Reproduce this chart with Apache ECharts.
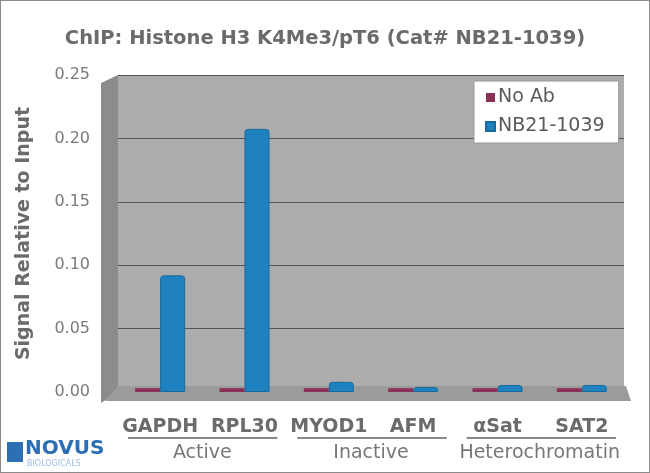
<!DOCTYPE html>
<html>
<head>
<meta charset="utf-8">
<script src="https://cdn.jsdelivr.net/npm/echarts@6/dist/echarts.min.js"></script>
<style>
  html, body { margin: 0; padding: 0; background: #fff; }
  #main { width: 650px; height: 473px; box-sizing: border-box; border: 1px solid #8a8a8a; }
</style>
</head>
<body>
<div id="main"></div>
<script>
// chart data
const genes = ['GAPDH', 'RPL30', 'MYOD1', 'AFM', 'αSat', 'SAT2']
const groups = ['Active', 'Inactive', 'Heterochromatin']
const noAb = [0.003, 0.003, 0.003, 0.003, 0.003, 0.003]
const nb21 = [0.092, 0.2075, 0.008, 0.004, 0.0055, 0.0055]

const FONT = '"DejaVu Sans", Verdana, sans-serif'
const GRAY = '#6b6b6b'
const gridLeft = 117, gridRight = 25, gridTop = 74, gridBottom = 80

const chartDom = document.getElementById('main')
const myChart = echarts.init(chartDom)

var option = {
  animation: false,
  title: {
    text: 'ChIP: Histone H3 K4Me3/pT6 (Cat# NB21-1039)',
    left: 'center',
    top: 23,
    textStyle: { color: GRAY, fontFamily: FONT, fontSize: 19.5, fontWeight: 'bold' }
  },
  legend: {
    orient: 'vertical',
    left: 473,
    top: 80,
    padding: [7, 14, 7, 11],
    itemGap: 10,
    itemWidth: 9,
    itemHeight: 9,
    icon: 'rect',
    backgroundColor: '#fff',
    borderColor: '#999',
    borderWidth: 1,
    textStyle: { color: '#5a5a5a', fontFamily: FONT, fontSize: 19, padding: [0, 0, 0, -2] },
    data: ['No Ab', 'NB21-1039']
  },
  grid: {
    left: gridLeft, right: gridRight, top: gridTop, bottom: gridBottom,
    show: true, backgroundColor: '#acacac', borderWidth: 0
  },
  xAxis: [
    {
      type: 'category', data: genes,
      axisLine: { show: false }, axisTick: { show: false },
      axisLabel: { interval: 0, margin: 26, color: GRAY, fontFamily: FONT, fontSize: 19, fontWeight: 'bold' }
    },
    {
      type: 'category', data: groups, position: 'bottom',
      axisLine: { show: false }, axisTick: { show: false },
      axisLabel: { interval: 0, margin: 52, color: '#777', fontFamily: FONT, fontSize: 19 }
    }
  ],
  yAxis: {
    type: 'value', min: 0, max: 0.25, interval: 0.05,
    name: 'Signal Relative to Input',
    nameLocation: 'middle',
    nameGap: 84,
    nameTextStyle: { color: GRAY, fontFamily: FONT, fontSize: 19, fontWeight: 'bold' },
    axisLine: { show: false }, axisTick: { show: false },
    axisLabel: {
      margin: 28, color: '#7a7a7a', fontFamily: FONT, fontSize: 16,
      formatter: v => v.toFixed(2)
    },
    splitLine: { lineStyle: { color: '#555', width: 1 } }
  },
  series: [
    {
      name: 'No Ab', type: 'bar',
      barWidth: 25, barGap: '0%',
      itemStyle: { color: '#8a2f55' },
      data: noAb
    },
    {
      name: 'NB21-1039', type: 'bar',
      barWidth: 25, barGap: '0%',
      itemStyle: { color: '#1f82bf', borderColor: '#166a9e', borderWidth: 1, borderRadius: [3, 3, 0, 0] },
      data: nb21
    }
  ]
}
option && myChart.setOption(option)

// 3d wall decoration + group underlines, placed from the axes
const yTop = myChart.convertToPixel({ yAxisIndex: 0 }, 0.25)
const yZero = myChart.convertToPixel({ yAxisIndex: 0 }, 0)
const wallRight = 650 - gridRight
const bandW = (wallRight - gridLeft) / genes.length
const deco = [
  { type: 'polygon', z: -1, shape: { points: [[100, yTop + 8], [gridLeft, yTop], [gridLeft, yZero], [100, yZero + 11]] },
    style: { fill: '#8c8c8c' } },
  { type: 'polygon', z: 1, shape: { points: [[104, yZero + 9], [gridLeft, yZero - 6], [wallRight, yZero - 6], [wallRight + 5, yZero + 9]] },
    style: { fill: '#9b9b9b' } }
]
const groupSpan = [[0, 2], [2, 4], [4, 6]]
groupSpan.forEach(s => {
  deco.push({
    type: 'line',
    shape: { x1: gridLeft + s[0] * bandW + 10, y1: yZero + 46, x2: gridLeft + s[1] * bandW - 10, y2: yZero + 46 },
    style: { stroke: '#888', lineWidth: 2 }
  })
})
deco.push(
  { type: 'rect', shape: { x: 6, y: 441, width: 16, height: 20 }, style: { fill: '#2d6fb5' } },
  { type: 'text', left: 24, top: 438, style: { text: 'NOVUS', fill: '#2d6fb5', font: 'bold 20px ' + FONT } },
  { type: 'text', left: 26, top: 459, style: { text: 'BIOLOGICALS', fill: '#9cbbe0', font: '8px ' + FONT } }
)
myChart.setOption({ graphic: deco })
</script>
</body>
</html>
